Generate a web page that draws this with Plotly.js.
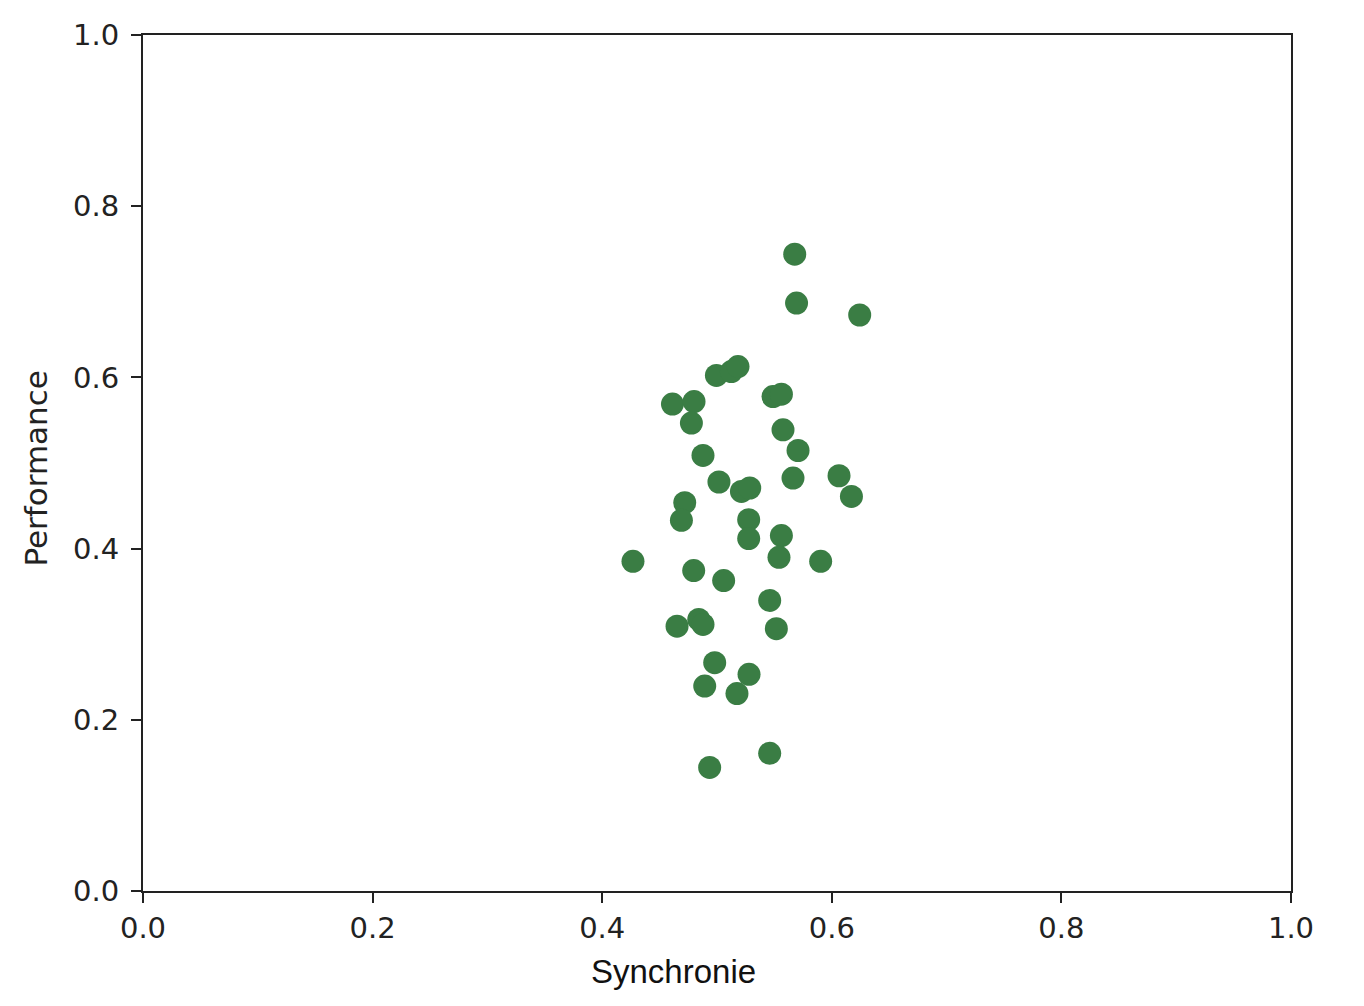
<!DOCTYPE html>
<html>
<head>
<meta charset="utf-8">
<script src="https://cdn.plot.ly/plotly-3.0.1.min.js"></script>
<style>html,body{margin:0;padding:0;background:#fff;}#chart{width:1364px;height:1006px;}</style>
</head>
<body>
<div id="chart"></div>
<script>
const synchronie = [0.5677,0.5693,0.6243,0.4995,0.5125,0.5183,0.4612,0.4800,0.4777,0.5488,0.5561,0.5575,0.5706,0.4878,0.5662,0.6063,0.6171,0.5017,0.5213,0.5285,0.4719,0.4690,0.5276,0.5276,0.5561,0.5540,0.4268,0.4797,0.5058,0.5903,0.5459,0.4652,0.4841,0.4878,0.5517,0.4980,0.5279,0.4893,0.5174,0.5459,0.4936];
const performance = [0.7440,0.6869,0.6729,0.6023,0.6068,0.6126,0.5688,0.5718,0.5466,0.5776,0.5804,0.5388,0.5146,0.5088,0.4824,0.4851,0.4610,0.4778,0.4668,0.4708,0.4536,0.4330,0.4338,0.4117,0.4152,0.3898,0.3852,0.3743,0.3627,0.3852,0.3394,0.3094,0.3172,0.3114,0.3064,0.2667,0.2531,0.2394,0.2306,0.1609,0.1443];
const tickVals = [0,0.2,0.4,0.6,0.8,1.0];
const tickText = ["0.0","0.2","0.4","0.6","0.8","1.0"];
const xTitle = "Synchronie";
const yTitle = "Performance";

const tickFont = {family:"DejaVu Sans", size:29, color:"#222"};
const axisCommon = {
  range:[0,1], tickvals:tickVals, ticktext:tickText,
  showgrid:false, zeroline:false, showline:true, mirror:true,
  linecolor:"#222", linewidth:2, ticks:"outside", ticklen:10, tickwidth:2, tickcolor:"#222",
  tickfont:tickFont, fixedrange:true
};
Plotly.newPlot("chart", [{
  type:"scatter", mode:"markers", x:synchronie, y:performance,
  marker:{size:23, color:"#3a7d44", line:{width:0}}
}], {
  width:1364, height:1006,
  margin:{l:143, r:73, t:35, b:115},
  paper_bgcolor:"#fff", plot_bgcolor:"#fff",
  showlegend:false,
  xaxis:Object.assign({}, axisCommon, {}),
  yaxis:Object.assign({}, axisCommon, {ticklabelstandoff:6}),
  annotations:[
    {text:xTitle, xref:"paper", yref:"paper", x:0.4617, y:-0.0946, xanchor:"center", yanchor:"middle",
     showarrow:false, font:{family:"Liberation Sans", size:33, color:"#111"}},
    {text:yTitle, xref:"paper", yref:"paper", x:-0.0928, y:0.494, xanchor:"center", yanchor:"middle",
     textangle:-90, showarrow:false, font:{family:"DejaVu Sans", size:31, color:"#222"}}
  ]
}, {displayModeBar:false, staticPlot:true});
</script>
</body>
</html>
